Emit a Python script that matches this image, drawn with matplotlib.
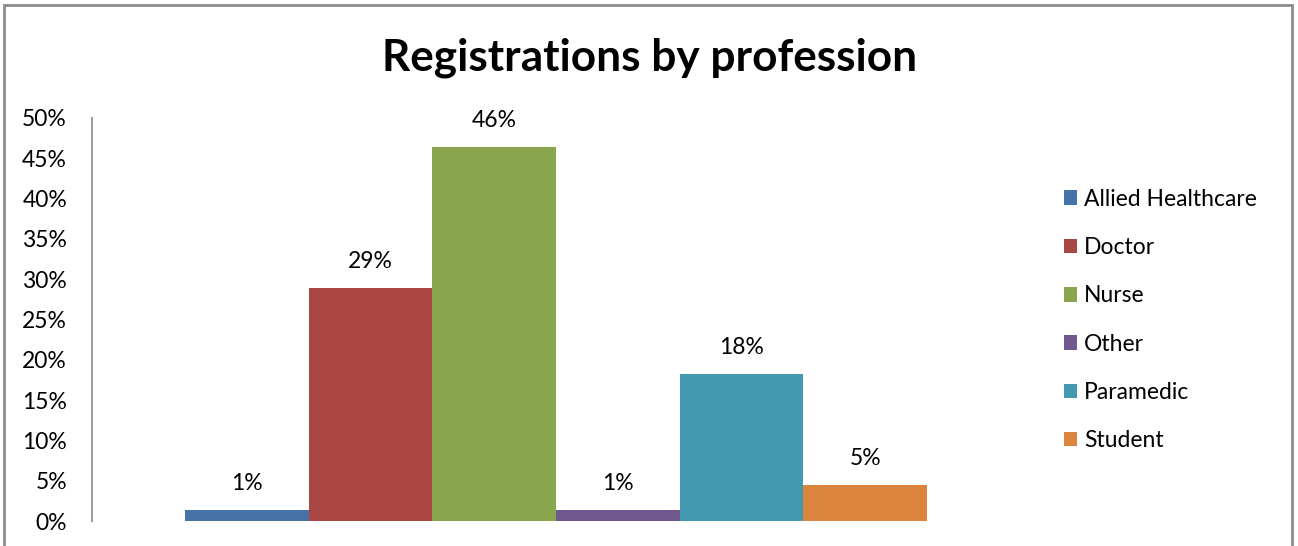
import matplotlib
matplotlib.use('Agg')
import matplotlib.pyplot as plt
from matplotlib.patches import Rectangle, Patch

# Share of registrations per profession (percent)
professions = ['Allied Healthcare', 'Doctor', 'Nurse', 'Other', 'Paramedic', 'Student']
shares = [1.4, 28.9, 46.4, 1.4, 18.2, 4.5]
colors = ['#4572A7', '#AA4643', '#89A54E', '#71588F', '#4198AF', '#DB843D']
yticks = [0, 5, 10, 15, 20, 25, 30, 35, 40, 45, 50]

plt.rcParams['font.family'] = ['Lato', 'DejaVu Sans']

W, H = 1298, 546
fig = plt.figure(figsize=(W / 100, H / 100), dpi=100)

# Chart frame (bottom edge runs off the canvas)
fig.patches.append(Rectangle((4 / W, -0.05), 1288 / W, (H - 5) / H + 0.05,
                             transform=fig.transFigure, fill=False,
                             edgecolor='#8c8c8c', linewidth=2))

ax = fig.add_axes([92 / W, (H - 521) / H, (1020 - 92) / W, (521 - 118) / H])

# One category, six adjacent bars
bar_w = 1.0
n = len(professions)
xs = [i - (n - 1) / 2 for i in range(n)]
ax.bar(xs, shares, width=bar_w, color=colors, linewidth=0)
for x, v in zip(xs, shares):
    ax.annotate(f'{int(v + 0.5)}%', (x, v), xytext=(0, 19), textcoords='offset points',
                ha='center', va='center', fontsize=16.5)

ax.set_xlim(-3.75, 3.75)
ax.set_ylim(0, 50)
ax.set_yticks(yticks)
ax.set_yticklabels([f'{t}%' for t in yticks], fontsize=16.5)
ax.tick_params(axis='y', length=0, pad=18)
ax.set_xticks([])
for side in ['top', 'right', 'bottom']:
    ax.spines[side].set_visible(False)
ax.spines['left'].set_color('#a0a0a0')
ax.spines['left'].set_linewidth(1.5)

fig.text(650 / W, (H - 58) / H, 'Registrations by profession', ha='center', va='center',
         fontsize=31.8, fontweight='bold')

handles = [Patch(facecolor=c, label=p) for p, c in zip(professions, colors)]
fig.legend(handles=handles, loc='center left', bbox_to_anchor=(1043 / W, (H - 320) / H),
           frameon=False, fontsize=16.5, handlelength=0.6, handleheight=0.6,
           handletextpad=0.3, labelspacing=1.19)

fig.savefig('out.png', dpi=100)
